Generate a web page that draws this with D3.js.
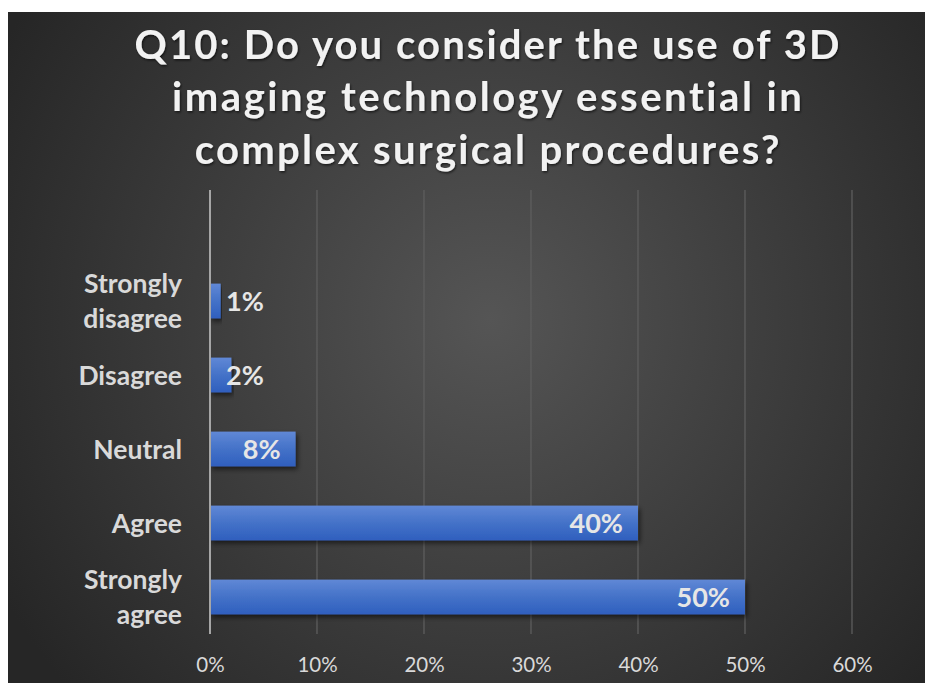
<!DOCTYPE html>
<html>
<head>
<meta charset="utf-8">
<script src="https://cdn.jsdelivr.net/npm/d3@7"></script>
<style>
  html, body { margin: 0; padding: 0; background: #ffffff; }
  svg { display: block; }
</style>
</head>
<body>
<svg id="chart" width="925" height="683"></svg>
<script>
// Survey responses, listed bottom to top of the chart
const categories = ["Strongly agree", "Agree", "Neutral", "Disagree", "Strongly disagree"];
const values = [0.50, 0.40, 0.08, 0.02, 0.01];
const valueLabels = ["50%", "40%", "8%", "2%", "1%"];
const tickValues = [0, 0.1, 0.2, 0.3, 0.4, 0.5, 0.6];
const titleLines = [
  "Q10: Do you consider the use of 3D",
  "imaging technology essential in",
  "complex surgical procedures?"
];

const svg = d3.select("#chart");
const W = 925, H = 683;
const font = "Lato, 'Open Sans', 'Noto Sans', sans-serif";

const defs = svg.append("defs");

// Dark radial backdrop
const bg = defs.append("radialGradient").attr("id", "bg")
  .attr("gradientUnits", "userSpaceOnUse")
  .attr("cx", 490).attr("cy", 320).attr("r", 560);
bg.append("stop").attr("offset", "0%").attr("stop-color", "#555555");
bg.append("stop").attr("offset", "100%").attr("stop-color", "#262626");

// Bar fill: lighter top, deeper blue bottom
const bar = defs.append("linearGradient").attr("id", "barFill")
  .attr("x1", 0).attr("y1", 0).attr("x2", 0).attr("y2", 1);
bar.append("stop").attr("offset", "0%").attr("stop-color", "#6088d6");
bar.append("stop").attr("offset", "50%").attr("stop-color", "#4472c8");
bar.append("stop").attr("offset", "100%").attr("stop-color", "#2f5fbe");

const shadow = defs.append("filter").attr("id", "shadow")
  .attr("x", "-5%").attr("y", "-30%").attr("width", "115%").attr("height", "180%");
shadow.append("feDropShadow").attr("dx", 2).attr("dy", 3).attr("stdDeviation", 2.5)
  .attr("flood-color", "#000").attr("flood-opacity", 0.55);

const textShadow = defs.append("filter").attr("id", "tshadow")
  .attr("x", "-5%").attr("y", "-20%").attr("width", "110%").attr("height", "150%");
textShadow.append("feDropShadow").attr("dx", 1).attr("dy", 1.5).attr("stdDeviation", 1)
  .attr("flood-color", "#000").attr("flood-opacity", 0.6);

svg.append("rect").attr("x", 8).attr("y", 12).attr("width", W - 8).attr("height", H - 12)
  .attr("fill", "url(#bg)");

// Scales
const x = d3.scaleLinear().domain([0, 0.6]).range([210, 852]);
const plotTop = 190, plotBottom = 634;
// six equal slots; the top slot stays empty
const slot = (plotBottom - plotTop) / 6;
const y = d3.scaleBand().domain(categories.slice().reverse())
  .range([plotTop + slot, plotBottom]).paddingInner(0.53).paddingOuter(0.265);

// Gridlines
const grid = svg.append("g");
grid.selectAll("line").data(tickValues.filter(d => d > 0)).join("line")
  .attr("x1", d => x(d)).attr("x2", d => x(d))
  .attr("y1", plotTop).attr("y2", plotBottom)
  .attr("stroke", "#5e5e5e").attr("stroke-width", 1.3);

// X axis tick labels
const xAxis = d3.axisBottom(x).tickValues(tickValues).tickFormat(d3.format(".0%")).tickSize(0).tickPadding(0);
const gx = svg.append("g").attr("transform", `translate(0, ${plotBottom})`).call(xAxis);
gx.select(".domain").remove();
gx.selectAll("text")
  .attr("y", 38)
  .attr("dy", 0)
  .attr("fill", "#d9d9d9")
  .style("font-family", font)
  .style("font-size", "20.5px");

// Bars
svg.append("g").selectAll("rect").data(categories).join("rect")
  .attr("x", x(0))
  .attr("y", d => y(d))
  .attr("width", (d, i) => x(values[i]) - x(0))
  .attr("height", y.bandwidth())
  .attr("fill", "url(#barFill)")
  .attr("filter", "url(#shadow)");

// Zero axis line
svg.append("line")
  .attr("x1", x(0)).attr("x2", x(0))
  .attr("y1", plotTop).attr("y2", plotBottom)
  .attr("stroke", "#a6a6a6").attr("stroke-width", 2);

// Value labels, inside the bar end
const vl = svg.append("g").selectAll("text").data(categories).join("text")
  .attr("y", d => y(d) + y.bandwidth() / 2)
  .attr("dy", "0.36em")
  .attr("text-anchor", "end")
  .attr("fill", "#e6e6e6")
  .style("font-family", font)
  .style("font-weight", 700)
  .style("font-size", "27px")
  .text((d, i) => valueLabels[i]);
vl.each(function (d, i) {
  const w = this.getComputedTextLength();
  const right = Math.max(x(values[i]) - 15, x(0) + 16 + w);
  d3.select(this).attr("x", right);
});

// Category labels
const catG = svg.append("g");
categories.forEach(c => {
  const words = c.split(" ");
  const cy = y(c) + y.bandwidth() / 2;
  const lh = 35;
  const t = catG.append("text")
    .attr("text-anchor", "end")
    .attr("fill", "#d9d9d9")
    .style("font-family", font)
    .style("font-weight", 700)
    .style("font-size", "26.5px");
  words.forEach((wd, k) => {
    t.append("tspan")
      .attr("x", 182)
      .attr("y", cy + (k - (words.length - 1) / 2) * lh)
      .attr("dy", "0.36em")
      .text(wd);
  });
});

// Title
const titleWidths = [707, 633, 587];
const titleY = [45, 97, 150];
titleLines.forEach((line, i) => {
  const t = svg.append("text")
    .attr("x", 487).attr("y", titleY[i])
    .attr("dy", "0.36em")
    .attr("text-anchor", "middle")
    .attr("fill", "#f2f2f2")
    .attr("filter", "url(#tshadow)")
    .style("font-family", font)
    .style("font-weight", 700)
    .style("font-size", "40px")
    .text(line);
  const w = t.node().getComputedTextLength();
  const n = line.length;
  const ls = (titleWidths[i] - w) / n;
  t.style("letter-spacing", ls + "px")
    .attr("x", 487 + ls / 2);
});
</script>
</body>
</html>
